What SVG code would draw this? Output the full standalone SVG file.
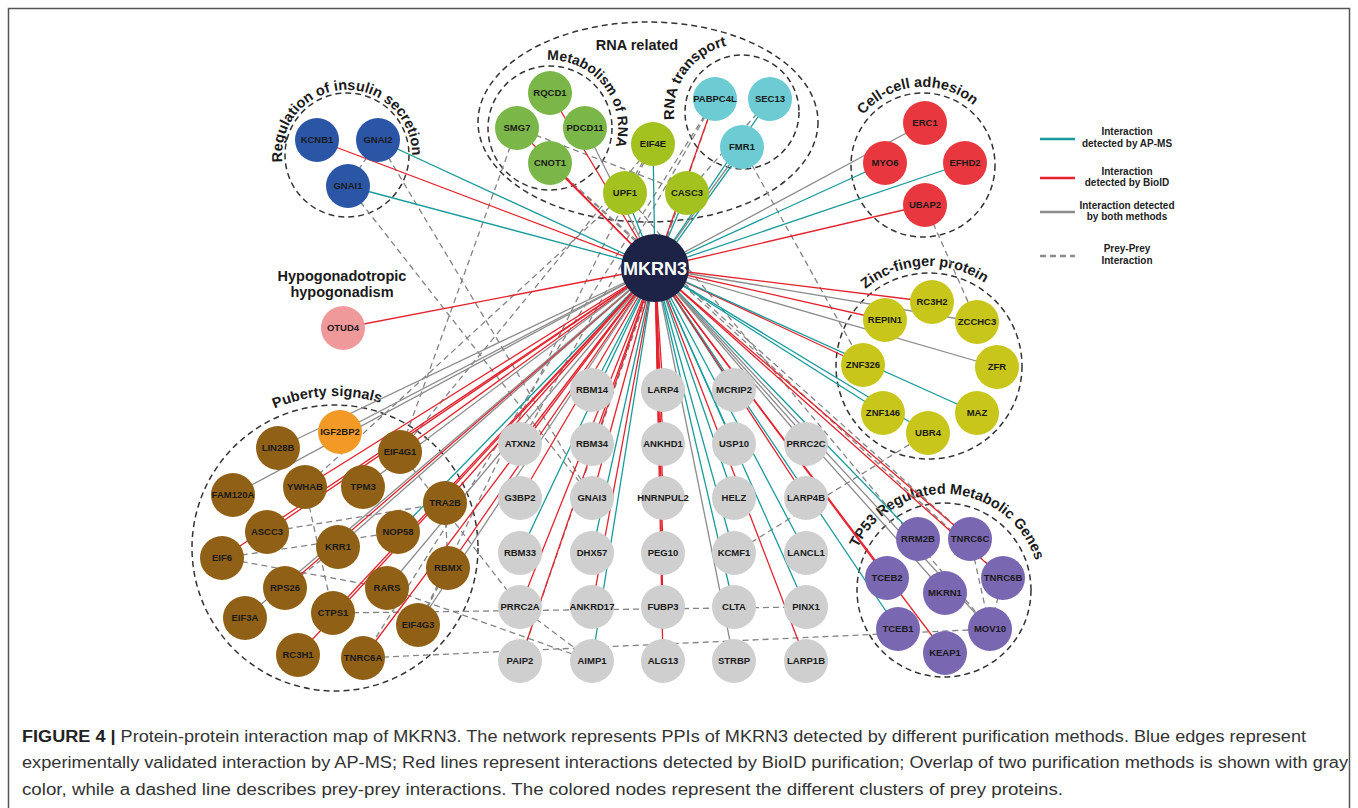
<svg xmlns="http://www.w3.org/2000/svg" width="1358" height="808" viewBox="0 0 1358 808">
<style>
.e{fill:none;stroke-width:1.3}
.t{stroke:#1a9b9b}
.r{stroke:#e3232e}
.g{stroke:#8c8c8c}
.d{fill:none;stroke:#848484;stroke-width:1.3;stroke-dasharray:6 4}
.cl{fill:none;stroke:#333;stroke-width:1.5;stroke-dasharray:6 4}
.lbl{font-family:"Liberation Sans",Arial,sans-serif;font-weight:bold;font-size:14.5px;fill:#1a1a1a}
.m14{font-size:14px}
.nt{font-family:"Liberation Sans",Arial,sans-serif;font-weight:bold;font-size:9.5px;fill:#1a1a1a;text-anchor:middle}
.lg{font-family:"Liberation Sans",Arial,sans-serif;font-weight:bold;font-size:10px;fill:#222;text-anchor:middle}
.cap{font-family:"Liberation Sans",Arial,sans-serif;font-size:16px;fill:#333}
.ins{fill:#2b56a6}.met{fill:#7ab648}.rna{fill:#a3c21f}.trn{fill:#6ccbd3}.cel{fill:#e8373e}
.zf{fill:#c8c61a}.tp{fill:#7a67b1}.pub{fill:#8f6015}.org{fill:#f39a26}.gry{fill:#cfcfcf}.pnk{fill:#f0999b}
</style>
<defs>
<path id="pIns" d="M283.7,169.6 A65,65 0 1 1 411.5,162.9"/>
<path id="pMet" d="M501.9,79.9 A68,68 0 1 1 578.7,189.6"/>
<path id="pTrn" d="M713.3,173.6 A68,68 0 1 1 790.1,63.9"/>
<path id="pCel" d="M847.7,185.2 A78,78 0 1 1 1000.7,171.8"/>
<path id="pZf" d="M831.6,388.5 A100,100 0 1 1 1028.3,378.2"/>
<path id="pTp" d="M848.5,600 A96,96 0 1 1 1037.1,613.2"/>
<path id="pPub" d="M199.6,479 A152,152 0 0 1 462.5,465.2"/>
</defs>
<rect x="8.5" y="8.5" width="1341" height="830" fill="#fff" stroke="#555" stroke-width="1.5"/>

<g id="clusters">
<ellipse class="cl" cx="648" cy="122" rx="170" ry="100"/>
<circle class="cl" cx="347" cy="155" r="62"/>
<circle class="cl" cx="550" cy="128" r="62"/>
<circle class="cl" cx="742" cy="112" r="57"/>
<circle class="cl" cx="923" cy="165" r="72"/>
<circle class="cl" cx="929" cy="366" r="93"/>
<circle class="cl" cx="944" cy="590" r="87"/>
<circle class="cl" cx="335" cy="548" r="143"/>
</g>

<g id="cluster-labels">
<text class="lbl"><textPath href="#pIns" startOffset="7.5">Regulation</textPath></text>
<text class="lbl"><textPath href="#pIns" startOffset="86.4">of</textPath></text>
<text class="lbl"><textPath href="#pIns" startOffset="104.1">insulin</textPath></text>
<text class="lbl"><textPath href="#pIns" startOffset="154.9">secretion</textPath></text>
<text class="lbl m14"><textPath href="#pMet" startOffset="50.4">Metabolism</textPath></text>
<text class="lbl m14"><textPath href="#pMet" startOffset="131.2">of</textPath></text>
<text class="lbl m14"><textPath href="#pMet" startOffset="148.3">RNA</textPath></text>
<text class="lbl"><textPath href="#pTrn" startOffset="69.2">RNA</textPath></text>
<text class="lbl"><textPath href="#pTrn" startOffset="104.6">transport</textPath></text>
<text class="lbl"><textPath href="#pCel" startOffset="74.5">Cell-cell</textPath></text>
<text class="lbl"><textPath href="#pCel" startOffset="134.1">adhesion</textPath></text>
<text class="lbl"><textPath href="#pZf" startOffset="110.5">Zinc-finger</textPath></text>
<text class="lbl"><textPath href="#pZf" startOffset="189.4">protein</textPath></text>
<text class="lbl"><textPath href="#pTp" startOffset="53.5">TP53</textPath></text>
<text class="lbl"><textPath href="#pTp" startOffset="92.2">Regulated</textPath></text>
<text class="lbl"><textPath href="#pTp" startOffset="166.3">Metabolic</textPath></text>
<text class="lbl"><textPath href="#pTp" startOffset="237.2">Genes</textPath></text>
<text class="lbl"><textPath href="#pPub" startOffset="50%" text-anchor="middle">Puberty signals</textPath></text>
<text class="lbl" x="637" y="50" text-anchor="middle">RNA related</text>
<text class="lbl" x="342" y="281" text-anchor="middle">Hypogonadotropic</text>
<text class="lbl" x="342" y="297" text-anchor="middle">hypogonadism</text>
</g>

<g id="connectors">
<g id="prey-prey">
<line class="d" x1="378" y1="140" x2="348" y2="186"/>
<line class="d" x1="378" y1="140" x2="592" y2="498"/>
<line class="d" x1="348" y1="186" x2="592" y2="498"/>
<line class="d" x1="925" y1="205" x2="977" y2="322"/>
<line class="d" x1="687" y1="193" x2="770" y2="99"/>
<line class="d" x1="625" y1="193" x2="653" y2="144"/>
<line class="d" x1="517" y1="128" x2="687" y2="193"/>
<line class="d" x1="517" y1="128" x2="400" y2="452"/>
<line class="d" x1="653" y1="144" x2="400" y2="452"/>
<line class="d" x1="653" y1="144" x2="418" y2="625"/>
<line class="d" x1="625" y1="193" x2="305" y2="487"/>
<line class="d" x1="715" y1="99" x2="520" y2="661"/>
<line class="d" x1="715" y1="99" x2="520" y2="444"/>
<line class="d" x1="715" y1="99" x2="363" y2="658"/>
<line class="d" x1="550" y1="163" x2="970" y2="539"/>
<line class="d" x1="550" y1="163" x2="1003" y2="578"/>
<line class="d" x1="625" y1="193" x2="990" y2="629"/>
<line class="d" x1="742" y1="147" x2="863" y2="365"/>
<line class="d" x1="734" y1="553" x2="928" y2="433"/>
<line class="d" x1="970" y1="539" x2="990" y2="629"/>
<line class="d" x1="1003" y1="578" x2="990" y2="629"/>
<line class="d" x1="363" y1="658" x2="990" y2="629"/>
<line class="d" x1="333" y1="613" x2="806" y2="607"/>
<line class="d" x1="387" y1="588" x2="592" y2="661"/>
<line class="d" x1="520" y1="607" x2="592" y2="661"/>
<line class="d" x1="400" y1="452" x2="520" y2="607"/>
<line class="d" x1="222" y1="558" x2="398" y2="532"/>
<line class="d" x1="222" y1="558" x2="387" y2="588"/>
<line class="d" x1="267" y1="532" x2="445" y2="503"/>
<line class="d" x1="285" y1="588" x2="338" y2="547"/>
<line class="d" x1="448" y1="568" x2="445" y2="503"/>
<line class="d" x1="448" y1="568" x2="418" y2="625"/>
<line class="d" x1="305" y1="487" x2="333" y2="613"/>
</g>
<g id="bait-edges">
<line class="e r" x1="655" y1="268" x2="317" y2="140"/>
<line class="e t" x1="655" y1="268" x2="378" y2="140"/>
<line class="e t" x1="655" y1="268" x2="348" y2="186"/>
<line class="e r" x1="655" y1="268" x2="343" y2="328"/>
<line class="e r" x1="655" y1="268" x2="550" y2="93"/>
<line class="e r" x1="655" y1="268" x2="517" y2="128"/>
<line class="e g" x1="655" y1="268" x2="585" y2="128"/>
<line class="e r" x1="655" y1="268" x2="550" y2="163"/>
<line class="e t" x1="655" y1="268" x2="653" y2="144"/>
<line class="e t" x1="655" y1="268" x2="625" y2="193"/>
<line class="e t" x1="655" y1="268" x2="687" y2="193"/>
<line class="e r" x1="655" y1="268" x2="715" y2="99"/>
<line class="e t" x1="655" y1="268" x2="770" y2="99"/>
<line class="e g" x1="655" y1="268" x2="742" y2="147"/>
<line class="e t" x1="658" y1="268" x2="745" y2="147"/>
<line class="e g" x1="655" y1="268" x2="925" y2="123"/>
<line class="e t" x1="655" y1="268" x2="885" y2="163"/>
<line class="e t" x1="655" y1="268" x2="965" y2="163"/>
<line class="e r" x1="655" y1="268" x2="925" y2="205"/>
<line class="e r" x1="655" y1="268" x2="932" y2="302"/>
<line class="e r" x1="655" y1="268" x2="885" y2="320"/>
<line class="e g" x1="655" y1="268" x2="977" y2="322"/>
<line class="e g" x1="655" y1="268" x2="997" y2="367"/>
<line class="e r" x1="655" y1="268" x2="863" y2="365"/>
<line class="e t" x1="655" y1="268" x2="977" y2="413"/>
<line class="e t" x1="655" y1="268" x2="883" y2="413"/>
<line class="e t" x1="655" y1="268" x2="928" y2="433"/>
<line class="e t" x1="655" y1="268" x2="918" y2="539"/>
<line class="e r" x1="655" y1="268" x2="970" y2="539"/>
<line class="e r" x1="655" y1="268" x2="1003" y2="578"/>
<line class="e r" x1="655" y1="268" x2="887" y2="578"/>
<line class="e g" x1="655" y1="268" x2="945" y2="593"/>
<line class="e t" x1="655" y1="268" x2="898" y2="629"/>
<line class="e g" x1="655" y1="268" x2="990" y2="629"/>
<line class="e r" x1="655" y1="268" x2="945" y2="653"/>
<line class="e t" x1="655" y1="268" x2="592" y2="390"/>
<line class="e r" x1="655" y1="268" x2="663" y2="390"/>
<line class="e t" x1="655" y1="268" x2="734" y2="390"/>
<line class="e r" x1="655" y1="268" x2="520" y2="444"/>
<line class="e r" x1="655" y1="268" x2="592" y2="444"/>
<line class="e r" x1="655" y1="268" x2="663" y2="444"/>
<line class="e t" x1="655" y1="268" x2="734" y2="444"/>
<line class="e g" x1="655" y1="268" x2="806" y2="444"/>
<line class="e r" x1="655" y1="268" x2="520" y2="498"/>
<line class="e r" x1="655" y1="268" x2="592" y2="498"/>
<line class="e r" x1="655" y1="268" x2="663" y2="498"/>
<line class="e t" x1="655" y1="268" x2="734" y2="498"/>
<line class="e r" x1="655" y1="268" x2="806" y2="498"/>
<line class="e t" x1="655" y1="268" x2="520" y2="553"/>
<line class="e t" x1="655" y1="268" x2="592" y2="553"/>
<line class="e r" x1="655" y1="268" x2="663" y2="553"/>
<line class="e t" x1="655" y1="268" x2="734" y2="553"/>
<line class="e t" x1="655" y1="268" x2="806" y2="553"/>
<line class="e r" x1="655" y1="268" x2="520" y2="607"/>
<line class="e r" x1="655" y1="268" x2="592" y2="607"/>
<line class="e r" x1="655" y1="268" x2="663" y2="607"/>
<line class="e t" x1="655" y1="268" x2="734" y2="607"/>
<line class="e t" x1="655" y1="268" x2="806" y2="607"/>
<line class="e r" x1="655" y1="268" x2="520" y2="661"/>
<line class="e t" x1="655" y1="268" x2="592" y2="661"/>
<line class="e r" x1="655" y1="268" x2="663" y2="661"/>
<line class="e g" x1="655" y1="268" x2="734" y2="661"/>
<line class="e r" x1="655" y1="268" x2="806" y2="661"/>
<line class="e g" x1="655" y1="268" x2="340" y2="432"/>
<line class="e g" x1="655" y1="268" x2="278" y2="448"/>
<line class="e r" x1="655" y1="268" x2="400" y2="452"/>
<line class="e g" x1="655" y1="268" x2="233" y2="495"/>
<line class="e r" x1="655" y1="268" x2="305" y2="487"/>
<line class="e g" x1="655" y1="268" x2="363" y2="487"/>
<line class="e r" x1="655" y1="268" x2="445" y2="503"/>
<line class="e r" x1="655" y1="268" x2="267" y2="532"/>
<line class="e g" x1="655" y1="268" x2="338" y2="547"/>
<line class="e t" x1="655" y1="268" x2="398" y2="532"/>
<line class="e r" x1="655" y1="268" x2="222" y2="558"/>
<line class="e r" x1="655" y1="268" x2="448" y2="568"/>
<line class="e r" x1="655" y1="268" x2="285" y2="588"/>
<line class="e g" x1="655" y1="268" x2="387" y2="588"/>
<line class="e g" x1="655" y1="268" x2="245" y2="618"/>
<line class="e r" x1="655" y1="268" x2="333" y2="613"/>
<line class="e g" x1="655" y1="268" x2="418" y2="625"/>
<line class="e r" x1="655" y1="268" x2="298" y2="655"/>
<line class="e r" x1="655" y1="268" x2="363" y2="658"/>
</g>
</g>

<g id="nodes">
<g id="n-KCNB1"><circle class="ins" cx="317" cy="140" r="22"/><text class="nt" x="317" y="143.4">KCNB1</text></g>
<g id="n-GNAI2"><circle class="ins" cx="378" cy="140" r="22"/><text class="nt" x="378" y="143.4">GNAI2</text></g>
<g id="n-GNAI1"><circle class="ins" cx="348" cy="186" r="22"/><text class="nt" x="348" y="189.4">GNAI1</text></g>
<g id="n-RQCD1"><circle class="met" cx="550" cy="93" r="22"/><text class="nt" x="550" y="96.4">RQCD1</text></g>
<g id="n-SMG7"><circle class="met" cx="517" cy="128" r="22"/><text class="nt" x="517" y="131.4">SMG7</text></g>
<g id="n-PDCD11"><circle class="met" cx="585" cy="128" r="22"/><text class="nt" x="585" y="131.4">PDCD11</text></g>
<g id="n-CNOT1"><circle class="met" cx="550" cy="163" r="22"/><text class="nt" x="550" y="166.4">CNOT1</text></g>
<g id="n-EIF4E"><circle class="rna" cx="653" cy="144" r="22"/><text class="nt" x="653" y="147.4">EIF4E</text></g>
<g id="n-UPF1"><circle class="rna" cx="625" cy="193" r="22"/><text class="nt" x="625" y="196.4">UPF1</text></g>
<g id="n-CASC3"><circle class="rna" cx="687" cy="193" r="22"/><text class="nt" x="687" y="196.4">CASC3</text></g>
<g id="n-PABPC4L"><circle class="trn" cx="715" cy="99" r="22"/><text class="nt" x="715" y="102.4">PABPC4L</text></g>
<g id="n-SEC13"><circle class="trn" cx="770" cy="99" r="22"/><text class="nt" x="770" y="102.4">SEC13</text></g>
<g id="n-FMR1"><circle class="trn" cx="742" cy="147" r="22"/><text class="nt" x="742" y="150.4">FMR1</text></g>
<g id="n-ERC1"><circle class="cel" cx="925" cy="123" r="22"/><text class="nt" x="925" y="126.4">ERC1</text></g>
<g id="n-MYO6"><circle class="cel" cx="885" cy="163" r="22"/><text class="nt" x="885" y="166.4">MYO6</text></g>
<g id="n-EFHD2"><circle class="cel" cx="965" cy="163" r="22"/><text class="nt" x="965" y="166.4">EFHD2</text></g>
<g id="n-UBAP2"><circle class="cel" cx="925" cy="205" r="22"/><text class="nt" x="925" y="208.4">UBAP2</text></g>
<g id="n-RC3H2"><circle class="zf" cx="932" cy="302" r="22"/><text class="nt" x="932" y="305.4">RC3H2</text></g>
<g id="n-REPIN1"><circle class="zf" cx="885" cy="320" r="22"/><text class="nt" x="885" y="323.4">REPIN1</text></g>
<g id="n-ZCCHC3"><circle class="zf" cx="977" cy="322" r="22"/><text class="nt" x="977" y="325.4">ZCCHC3</text></g>
<g id="n-ZNF326"><circle class="zf" cx="863" cy="365" r="22"/><text class="nt" x="863" y="368.4">ZNF326</text></g>
<g id="n-ZFR"><circle class="zf" cx="997" cy="367" r="22"/><text class="nt" x="997" y="370.4">ZFR</text></g>
<g id="n-ZNF146"><circle class="zf" cx="883" cy="413" r="22"/><text class="nt" x="883" y="416.4">ZNF146</text></g>
<g id="n-MAZ"><circle class="zf" cx="977" cy="413" r="22"/><text class="nt" x="977" y="416.4">MAZ</text></g>
<g id="n-UBR4"><circle class="zf" cx="928" cy="433" r="22"/><text class="nt" x="928" y="436.4">UBR4</text></g>
<g id="n-RRM2B"><circle class="tp" cx="918" cy="539" r="22"/><text class="nt" x="918" y="542.4">RRM2B</text></g>
<g id="n-TNRC6C"><circle class="tp" cx="970" cy="539" r="22"/><text class="nt" x="970" y="542.4">TNRC6C</text></g>
<g id="n-TCEB2"><circle class="tp" cx="887" cy="578" r="22"/><text class="nt" x="887" y="581.4">TCEB2</text></g>
<g id="n-TNRC6B"><circle class="tp" cx="1003" cy="578" r="22"/><text class="nt" x="1003" y="581.4">TNRC6B</text></g>
<g id="n-MKRN1"><circle class="tp" cx="945" cy="593" r="22"/><text class="nt" x="945" y="596.4">MKRN1</text></g>
<g id="n-TCEB1"><circle class="tp" cx="898" cy="629" r="22"/><text class="nt" x="898" y="632.4">TCEB1</text></g>
<g id="n-MOV10"><circle class="tp" cx="990" cy="629" r="22"/><text class="nt" x="990" y="632.4">MOV10</text></g>
<g id="n-KEAP1"><circle class="tp" cx="945" cy="653" r="22"/><text class="nt" x="945" y="656.4">KEAP1</text></g>
<g id="n-IGF2BP2"><circle class="org" cx="340" cy="432" r="22"/><text class="nt" x="340" y="435.4">IGF2BP2</text></g>
<g id="n-LIN28B"><circle class="pub" cx="278" cy="448" r="22"/><text class="nt" x="278" y="451.4">LIN28B</text></g>
<g id="n-EIF4G1"><circle class="pub" cx="400" cy="452" r="22"/><text class="nt" x="400" y="455.4">EIF4G1</text></g>
<g id="n-FAM120A"><circle class="pub" cx="233" cy="495" r="22"/><text class="nt" x="233" y="498.4">FAM120A</text></g>
<g id="n-YWHAB"><circle class="pub" cx="305" cy="487" r="22"/><text class="nt" x="305" y="490.4">YWHAB</text></g>
<g id="n-TPM3"><circle class="pub" cx="363" cy="487" r="22"/><text class="nt" x="363" y="490.4">TPM3</text></g>
<g id="n-TRA2B"><circle class="pub" cx="445" cy="503" r="22"/><text class="nt" x="445" y="506.4">TRA2B</text></g>
<g id="n-ASCC3"><circle class="pub" cx="267" cy="532" r="22"/><text class="nt" x="267" y="535.4">ASCC3</text></g>
<g id="n-KRR1"><circle class="pub" cx="338" cy="547" r="22"/><text class="nt" x="338" y="550.4">KRR1</text></g>
<g id="n-NOP58"><circle class="pub" cx="398" cy="532" r="22"/><text class="nt" x="398" y="535.4">NOP58</text></g>
<g id="n-EIF6"><circle class="pub" cx="222" cy="558" r="22"/><text class="nt" x="222" y="561.4">EIF6</text></g>
<g id="n-RBMX"><circle class="pub" cx="448" cy="568" r="22"/><text class="nt" x="448" y="571.4">RBMX</text></g>
<g id="n-RPS26"><circle class="pub" cx="285" cy="588" r="22"/><text class="nt" x="285" y="591.4">RPS26</text></g>
<g id="n-RARS"><circle class="pub" cx="387" cy="588" r="22"/><text class="nt" x="387" y="591.4">RARS</text></g>
<g id="n-EIF3A"><circle class="pub" cx="245" cy="618" r="22"/><text class="nt" x="245" y="621.4">EIF3A</text></g>
<g id="n-CTPS1"><circle class="pub" cx="333" cy="613" r="22"/><text class="nt" x="333" y="616.4">CTPS1</text></g>
<g id="n-EIF4G3"><circle class="pub" cx="418" cy="625" r="22"/><text class="nt" x="418" y="628.4">EIF4G3</text></g>
<g id="n-RC3H1"><circle class="pub" cx="298" cy="655" r="22"/><text class="nt" x="298" y="658.4">RC3H1</text></g>
<g id="n-TNRC6A"><circle class="pub" cx="363" cy="658" r="22"/><text class="nt" x="363" y="661.4">TNRC6A</text></g>
<g id="n-RBM14"><circle class="gry" cx="592" cy="390" r="22"/><text class="nt" x="592" y="393.4">RBM14</text></g>
<g id="n-LARP4"><circle class="gry" cx="663" cy="390" r="22"/><text class="nt" x="663" y="393.4">LARP4</text></g>
<g id="n-MCRIP2"><circle class="gry" cx="734" cy="390" r="22"/><text class="nt" x="734" y="393.4">MCRIP2</text></g>
<g id="n-ATXN2"><circle class="gry" cx="520" cy="444" r="22"/><text class="nt" x="520" y="447.4">ATXN2</text></g>
<g id="n-RBM34"><circle class="gry" cx="592" cy="444" r="22"/><text class="nt" x="592" y="447.4">RBM34</text></g>
<g id="n-ANKHD1"><circle class="gry" cx="663" cy="444" r="22"/><text class="nt" x="663" y="447.4">ANKHD1</text></g>
<g id="n-USP10"><circle class="gry" cx="734" cy="444" r="22"/><text class="nt" x="734" y="447.4">USP10</text></g>
<g id="n-PRRC2C"><circle class="gry" cx="806" cy="444" r="22"/><text class="nt" x="806" y="447.4">PRRC2C</text></g>
<g id="n-G3BP2"><circle class="gry" cx="520" cy="498" r="22"/><text class="nt" x="520" y="501.4">G3BP2</text></g>
<g id="n-GNAI3"><circle class="gry" cx="592" cy="498" r="22"/><text class="nt" x="592" y="501.4">GNAI3</text></g>
<g id="n-HNRNPUL2"><circle class="gry" cx="663" cy="498" r="22"/><text class="nt" x="663" y="501.4">HNRNPUL2</text></g>
<g id="n-HELZ"><circle class="gry" cx="734" cy="498" r="22"/><text class="nt" x="734" y="501.4">HELZ</text></g>
<g id="n-LARP4B"><circle class="gry" cx="806" cy="498" r="22"/><text class="nt" x="806" y="501.4">LARP4B</text></g>
<g id="n-RBM33"><circle class="gry" cx="520" cy="553" r="22"/><text class="nt" x="520" y="556.4">RBM33</text></g>
<g id="n-DHX57"><circle class="gry" cx="592" cy="553" r="22"/><text class="nt" x="592" y="556.4">DHX57</text></g>
<g id="n-PEG10"><circle class="gry" cx="663" cy="553" r="22"/><text class="nt" x="663" y="556.4">PEG10</text></g>
<g id="n-KCMF1"><circle class="gry" cx="734" cy="553" r="22"/><text class="nt" x="734" y="556.4">KCMF1</text></g>
<g id="n-LANCL1"><circle class="gry" cx="806" cy="553" r="22"/><text class="nt" x="806" y="556.4">LANCL1</text></g>
<g id="n-PRRC2A"><circle class="gry" cx="520" cy="607" r="22"/><text class="nt" x="520" y="610.4">PRRC2A</text></g>
<g id="n-ANKRD17"><circle class="gry" cx="592" cy="607" r="22"/><text class="nt" x="592" y="610.4">ANKRD17</text></g>
<g id="n-FUBP3"><circle class="gry" cx="663" cy="607" r="22"/><text class="nt" x="663" y="610.4">FUBP3</text></g>
<g id="n-CLTA"><circle class="gry" cx="734" cy="607" r="22"/><text class="nt" x="734" y="610.4">CLTA</text></g>
<g id="n-PINX1"><circle class="gry" cx="806" cy="607" r="22"/><text class="nt" x="806" y="610.4">PINX1</text></g>
<g id="n-PAIP2"><circle class="gry" cx="520" cy="661" r="22"/><text class="nt" x="520" y="664.4">PAIP2</text></g>
<g id="n-AIMP1"><circle class="gry" cx="592" cy="661" r="22"/><text class="nt" x="592" y="664.4">AIMP1</text></g>
<g id="n-ALG13"><circle class="gry" cx="663" cy="661" r="22"/><text class="nt" x="663" y="664.4">ALG13</text></g>
<g id="n-STRBP"><circle class="gry" cx="734" cy="661" r="22"/><text class="nt" x="734" y="664.4">STRBP</text></g>
<g id="n-LARP1B"><circle class="gry" cx="806" cy="661" r="22"/><text class="nt" x="806" y="664.4">LARP1B</text></g>
<g id="n-OTUD4"><circle class="pnk" cx="343" cy="328" r="22"/><text class="nt" x="343" y="331.4">OTUD4</text></g>
<g id="n-MKRN3"><circle fill="#1d2247" cx="655" cy="268" r="34"/><text x="655" y="274.5" text-anchor="middle" font-family="Liberation Sans, Arial, sans-serif" font-weight="bold" font-size="18" fill="#fff">MKRN3</text></g>
</g>

<g id="legend">
<line x1="1040" y1="139" x2="1075" y2="139" stroke="#1a9b9b" stroke-width="2.5"/>
<line x1="1040" y1="178" x2="1075" y2="178" stroke="#e3232e" stroke-width="2.5"/>
<line x1="1040" y1="212" x2="1075" y2="212" stroke="#8c8c8c" stroke-width="2.5"/>
<line x1="1040" y1="256" x2="1075" y2="256" stroke="#8c8c8c" stroke-width="2.5" stroke-dasharray="6 4"/>
<text class="lg" x="1127" y="135">Interaction</text>
<text class="lg" x="1127" y="147">detected by AP-MS</text>
<text class="lg" x="1127" y="175">Interaction</text>
<text class="lg" x="1127" y="186">detected by BioID</text>
<text class="lg" x="1127" y="209">Interaction detected</text>
<text class="lg" x="1127" y="220">by both methods</text>
<text class="lg" x="1127" y="252">Prey-Prey</text>
<text class="lg" x="1127" y="264">Interaction</text>
</g>

<g id="caption">
<text class="cap" x="22" y="742" textLength="1284" lengthAdjust="spacingAndGlyphs"><tspan font-weight="bold" fill="#222">FIGURE 4 |</tspan> Protein-protein interaction map of MKRN3. The network represents PPIs of MKRN3 detected by different purification methods. Blue edges represent</text>
<text class="cap" x="22" y="768" textLength="1326" lengthAdjust="spacingAndGlyphs">experimentally validated interaction by AP-MS; Red lines represent interactions detected by BioID purification; Overlap of two purification methods is shown with gray</text>
<text class="cap" x="22" y="795" textLength="1041" lengthAdjust="spacingAndGlyphs">color, while a dashed line describes prey-prey interactions. The colored nodes represent the different clusters of prey proteins.</text>
</g>
</svg>
